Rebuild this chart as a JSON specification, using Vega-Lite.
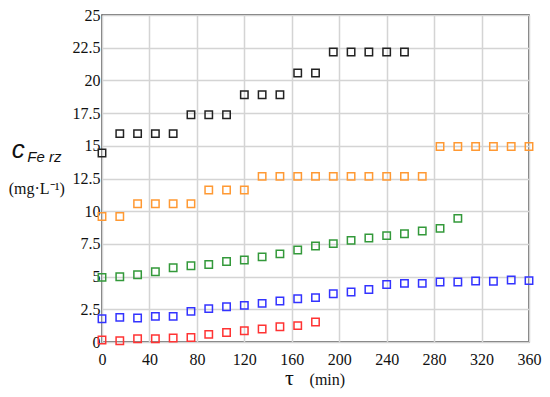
{
  "$schema": "https://vega.github.io/schema/vega-lite/v6.json",
  "autosize": "none",
  "width": 427,
  "height": 327,
  "padding": {"left": 102, "top": 15, "right": 21, "bottom": 55},
  "config": {
    "view": {"stroke": "#444444", "strokeWidth": 1.5},
    "axis": {"grid": true, "gridColor": "#d4d4d4", "gridWidth": 1.5, "domain": false, "ticks": false, "labelOverlap": false, "labelFlush": false, "title": null,
      "labelFont": "Liberation Serif", "labelFontSize": 16, "labelColor": "#111111"},
    "axisX": {"labelPadding": 9},
    "axisY": {"labelPadding": 2, "labelBound": false}
  },
  "layer": [
    {
      "data": {"values": [
        {"s": "black", "t": 0, "c": 14.45},
        {"s": "black", "t": 15, "c": 15.93},
        {"s": "black", "t": 30, "c": 15.93},
        {"s": "black", "t": 45, "c": 15.93},
        {"s": "black", "t": 60, "c": 15.93},
        {"s": "black", "t": 75, "c": 17.38},
        {"s": "black", "t": 90, "c": 17.38},
        {"s": "black", "t": 105, "c": 17.38},
        {"s": "black", "t": 120, "c": 18.9},
        {"s": "black", "t": 135, "c": 18.9},
        {"s": "black", "t": 150, "c": 18.9},
        {"s": "black", "t": 165, "c": 20.56},
        {"s": "black", "t": 180, "c": 20.56},
        {"s": "black", "t": 195, "c": 22.17},
        {"s": "black", "t": 210, "c": 22.17},
        {"s": "black", "t": 225, "c": 22.17},
        {"s": "black", "t": 240, "c": 22.17},
        {"s": "black", "t": 255, "c": 22.17},
        {"s": "orange", "t": 0, "c": 9.6},
        {"s": "orange", "t": 15, "c": 9.6},
        {"s": "orange", "t": 30, "c": 10.57},
        {"s": "orange", "t": 45, "c": 10.57},
        {"s": "orange", "t": 60, "c": 10.57},
        {"s": "orange", "t": 75, "c": 10.57},
        {"s": "orange", "t": 90, "c": 11.62},
        {"s": "orange", "t": 105, "c": 11.62},
        {"s": "orange", "t": 120, "c": 11.62},
        {"s": "orange", "t": 135, "c": 12.66},
        {"s": "orange", "t": 150, "c": 12.66},
        {"s": "orange", "t": 165, "c": 12.66},
        {"s": "orange", "t": 180, "c": 12.66},
        {"s": "orange", "t": 195, "c": 12.66},
        {"s": "orange", "t": 210, "c": 12.66},
        {"s": "orange", "t": 225, "c": 12.66},
        {"s": "orange", "t": 240, "c": 12.66},
        {"s": "orange", "t": 255, "c": 12.66},
        {"s": "orange", "t": 270, "c": 12.66},
        {"s": "orange", "t": 285, "c": 14.95},
        {"s": "orange", "t": 300, "c": 14.95},
        {"s": "orange", "t": 315, "c": 14.95},
        {"s": "orange", "t": 330, "c": 14.95},
        {"s": "orange", "t": 345, "c": 14.95},
        {"s": "orange", "t": 360, "c": 14.95},
        {"s": "green", "t": 0, "c": 4.94},
        {"s": "green", "t": 15, "c": 4.99},
        {"s": "green", "t": 30, "c": 5.14},
        {"s": "green", "t": 45, "c": 5.37},
        {"s": "green", "t": 60, "c": 5.68},
        {"s": "green", "t": 75, "c": 5.83},
        {"s": "green", "t": 90, "c": 5.93},
        {"s": "green", "t": 105, "c": 6.16},
        {"s": "green", "t": 120, "c": 6.27},
        {"s": "green", "t": 135, "c": 6.51},
        {"s": "green", "t": 150, "c": 6.74},
        {"s": "green", "t": 165, "c": 7.03},
        {"s": "green", "t": 180, "c": 7.34},
        {"s": "green", "t": 195, "c": 7.52},
        {"s": "green", "t": 210, "c": 7.77},
        {"s": "green", "t": 225, "c": 7.95},
        {"s": "green", "t": 240, "c": 8.13},
        {"s": "green", "t": 255, "c": 8.28},
        {"s": "green", "t": 270, "c": 8.49},
        {"s": "green", "t": 285, "c": 8.69},
        {"s": "green", "t": 300, "c": 9.45},
        {"s": "blue", "t": 0, "c": 1.78},
        {"s": "blue", "t": 15, "c": 1.88},
        {"s": "blue", "t": 30, "c": 1.83},
        {"s": "blue", "t": 45, "c": 1.96},
        {"s": "blue", "t": 60, "c": 1.96},
        {"s": "blue", "t": 75, "c": 2.34},
        {"s": "blue", "t": 90, "c": 2.55},
        {"s": "blue", "t": 105, "c": 2.7},
        {"s": "blue", "t": 120, "c": 2.8},
        {"s": "blue", "t": 135, "c": 2.95},
        {"s": "blue", "t": 150, "c": 3.13},
        {"s": "blue", "t": 165, "c": 3.31},
        {"s": "blue", "t": 180, "c": 3.39},
        {"s": "blue", "t": 195, "c": 3.69},
        {"s": "blue", "t": 210, "c": 3.82},
        {"s": "blue", "t": 225, "c": 4.02},
        {"s": "blue", "t": 240, "c": 4.4},
        {"s": "blue", "t": 255, "c": 4.48},
        {"s": "blue", "t": 270, "c": 4.48},
        {"s": "blue", "t": 285, "c": 4.59},
        {"s": "blue", "t": 300, "c": 4.59},
        {"s": "blue", "t": 315, "c": 4.66},
        {"s": "blue", "t": 330, "c": 4.64},
        {"s": "blue", "t": 345, "c": 4.74},
        {"s": "blue", "t": 360, "c": 4.69},
        {"s": "red", "t": 0, "c": 0.15},
        {"s": "red", "t": 15, "c": 0.1},
        {"s": "red", "t": 30, "c": 0.25},
        {"s": "red", "t": 45, "c": 0.25},
        {"s": "red", "t": 60, "c": 0.3},
        {"s": "red", "t": 75, "c": 0.35},
        {"s": "red", "t": 90, "c": 0.58},
        {"s": "red", "t": 105, "c": 0.73},
        {"s": "red", "t": 120, "c": 0.86},
        {"s": "red", "t": 135, "c": 0.99},
        {"s": "red", "t": 150, "c": 1.17},
        {"s": "red", "t": 165, "c": 1.25},
        {"s": "red", "t": 180, "c": 1.53}
      ]},
      "mark": {"type": "point", "shape": "square", "filled": false, "size": 55, "strokeWidth": 1.5, "opacity": 1, "clip": false},
      "encoding": {
        "x": {"field": "t", "type": "quantitative", "scale": {"domain": [0, 360], "nice": false},
          "axis": {"values": [0, 40, 80, 120, 160, 200, 240, 280, 320, 360]}},
        "y": {"field": "c", "type": "quantitative", "scale": {"domain": [0, 25], "nice": false},
          "axis": {"values": [0, 2.5, 5, 7.5, 10, 12.5, 15, 17.5, 20, 22.5, 25], "format": ".3~f"}},
        "color": {"field": "s", "type": "nominal", "legend": null,
          "scale": {"domain": ["black", "orange", "green", "blue", "red"], "range": ["#222222", "#ff9933", "#33993a", "#3333ff", "#ff3333"]}}
      }
    },
    {
      "data": {"values": [{"label": "c"}]},
      "mark": {"type": "text", "font": "Liberation Sans", "fontStyle": "italic", "fontWeight": "normal", "fontSize": 26, "align": "left", "baseline": "alphabetic", "clip": false, "fill": "#111111"},
      "encoding": {"text": {"field": "label"},
        "x": {"datum": -76, "type": "quantitative", "axis": {"values": [0, 40, 80, 120, 160, 200, 240, 280, 320, 360]}},
        "y": {"datum": 14.1, "type": "quantitative", "axis": {"values": [0, 2.5, 5, 7.5, 10, 12.5, 15, 17.5, 20, 22.5, 25], "format": ".3~f"}}}
    },
    {
      "data": {"values": [{"label": "Fe rz"}]},
      "mark": {"type": "text", "font": "Liberation Sans", "fontStyle": "italic", "fontWeight": "normal", "fontSize": 15, "align": "left", "baseline": "alphabetic", "clip": false, "fill": "#111111"},
      "encoding": {"text": {"field": "label"},
        "x": {"datum": -63, "type": "quantitative", "axis": {"values": [0, 40, 80, 120, 160, 200, 240, 280, 320, 360]}},
        "y": {"datum": 13.75, "type": "quantitative", "axis": {"values": [0, 2.5, 5, 7.5, 10, 12.5, 15, 17.5, 20, 22.5, 25], "format": ".3~f"}}}
    },
    {
      "data": {"values": [{"label": "(mg·L⁻¹)"}]},
      "mark": {"type": "text", "font": "Liberation Serif", "fontWeight": "normal", "fontSize": 16, "align": "center", "baseline": "alphabetic", "clip": false, "fill": "#111111"},
      "encoding": {"text": {"field": "label"},
        "x": {"datum": -55, "type": "quantitative", "axis": {"values": [0, 40, 80, 120, 160, 200, 240, 280, 320, 360]}},
        "y": {"datum": 11.3, "type": "quantitative", "axis": {"values": [0, 2.5, 5, 7.5, 10, 12.5, 15, 17.5, 20, 22.5, 25], "format": ".3~f"}}}
    },
    {
      "data": {"values": [{"label": "τ"}]},
      "mark": {"type": "text", "font": "Liberation Serif", "fontWeight": "normal", "fontSize": 22, "align": "center", "baseline": "alphabetic", "clip": false, "fill": "#111111"},
      "encoding": {"text": {"field": "label"},
        "x": {"datum": 158, "type": "quantitative", "axis": {"values": [0, 40, 80, 120, 160, 200, 240, 280, 320, 360]}},
        "y": {"datum": -3.3, "type": "quantitative", "axis": {"values": [0, 2.5, 5, 7.5, 10, 12.5, 15, 17.5, 20, 22.5, 25], "format": ".3~f"}}}
    },
    {
      "data": {"values": [{"label": "(min)"}]},
      "mark": {"type": "text", "font": "Liberation Serif", "fontWeight": "normal", "fontSize": 16, "align": "center", "baseline": "alphabetic", "clip": false, "fill": "#111111"},
      "encoding": {"text": {"field": "label"},
        "x": {"datum": 190, "type": "quantitative", "axis": {"values": [0, 40, 80, 120, 160, 200, 240, 280, 320, 360]}},
        "y": {"datum": -3.3, "type": "quantitative", "axis": {"values": [0, 2.5, 5, 7.5, 10, 12.5, 15, 17.5, 20, 22.5, 25], "format": ".3~f"}}}
    }
  ]
}
